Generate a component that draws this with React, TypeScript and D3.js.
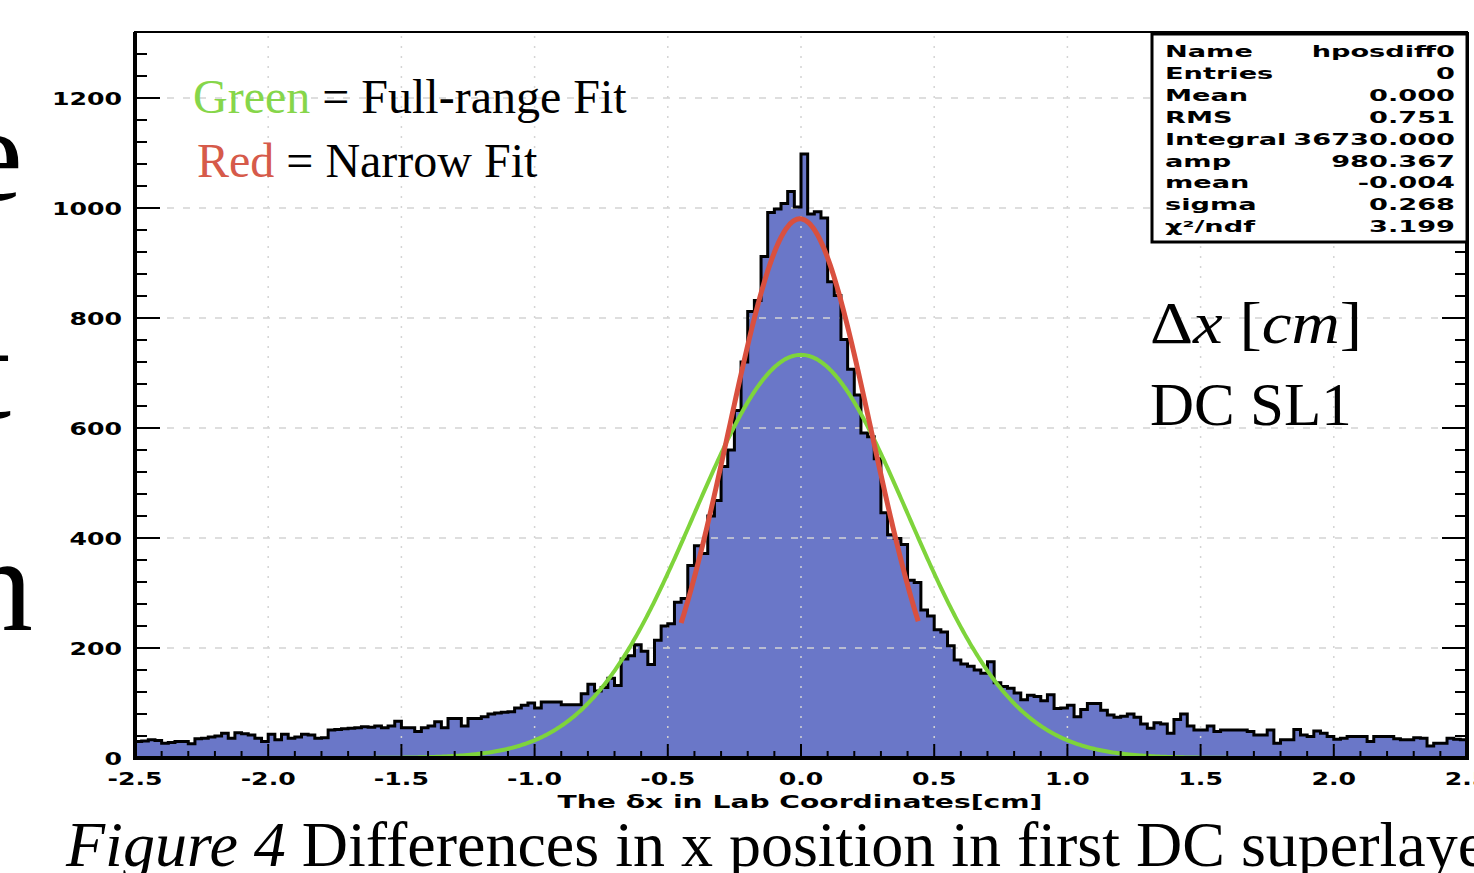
import React, { useEffect } from "react";
import * as d3 from "d3";

// histogram counts, 200 bins of 0.025 cm from -2.5 to 2.5
const counts = [
  30, 31, 33, 32, 27, 28, 30, 30, 26, 35, 36, 38, 40, 45, 36, 46, 44, 42, 36, 30,
  43, 33, 43, 36, 38, 43, 42, 36, 37, 51, 52, 53, 54, 55, 57, 56, 58, 55, 58, 67,
  55, 55, 48, 55, 58, 66, 55, 72, 72, 58, 72, 72, 75, 80, 82, 83, 84, 91, 96, 100,
  91, 102, 102, 102, 97, 97, 97, 117, 134, 122, 128, 145, 132, 180, 186, 206, 194, 170, 214, 240,
  244, 283, 290, 350, 386, 372, 440, 468, 530, 560, 632, 720, 812, 832, 912, 992, 998, 1008, 1030, 1002,
  1098, 989, 993, 982, 866, 841, 761, 707, 660, 591, 584, 544, 446, 406, 399, 388, 323, 319, 269, 258,
  233, 229, 204, 178, 171, 167, 160, 154, 175, 137, 130, 127, 118, 106, 114, 112, 104, 115, 90, 91,
  96, 75, 88, 99, 99, 87, 78, 74, 76, 80, 74, 62, 54, 64, 62, 45, 70, 80, 58, 51,
  51, 58, 48, 51, 51, 51, 51, 48, 42, 42, 51, 27, 33, 33, 52, 42, 39, 49, 45, 39,
  34, 36, 39, 39, 39, 30, 39, 39, 39, 35, 33, 33, 37, 36, 22, 27, 27, 36, 34, 33,
];
const binLo = -2.5;
const binWidth = 0.025;

const yTicks = [0, 200, 400, 600, 800, 1000, 1200];
const xTicks = [-2.5, -2.0, -1.5, -1.0, -0.5, 0.0, 0.5, 1.0, 1.5, 2.0, 2.5];

const statNames = ["Name", "Entries", "Mean", "RMS", "Integral", "amp", "mean", "sigma", "χ²/ndf"];
const statValues = ["hposdiff0", "0", "0.000", "0.751", "36730.000", "980.367", "-0.004", "0.268", "3.199"];

// narrow fit (from the stats box) and full-range fit
const narrowFit = { amp: 980.367, mean: -0.004, sigma: 0.268, from: -0.45, to: 0.44 };
const fullFit = { amp: 733, mean: 0.0, sigma: 0.4, from: -2.5, to: 2.5 };

const W = 1474;
const H = 873;

const gauss = (f, x) => f.amp * Math.exp(-0.5 * ((x - f.mean) / f.sigma) ** 2);
const fmtX = (v) => d3.format(".1f")(v).replace("−", "-");

export default function App() {
  useEffect(() => {
    document.body.style.margin = "0";
  }, []);

  const x = d3.scaleLinear().domain([-2.5, 2.5]).range([135, 1467]);
  const y = d3.scaleLinear().domain([0, 1320]).range([758, 32]);

  const steps = [];
  counts.forEach((c, i) => {
    const lo = binLo + i * binWidth;
    steps.push([lo, c], [lo + binWidth, c]);
  });
  const area = d3.area().x((d) => x(d[0])).y0(y(0)).y1((d) => y(d[1]));
  const line = d3.line().x((d) => x(d[0])).y((d) => y(d[1]));

  const fitPath = (f) => {
    const pts = d3.range(f.from, f.to + 1e-9, 0.005).map((v) => [v, gauss(f, v)]);
    return line(pts);
  };

  const minorY = d3.range(0, 1320, 40);
  const minorX = d3.range(-2.5, 2.5001, 0.1);

  const sans = "DejaVu Sans";
  const serif = "Liberation Serif";

  return (
    <svg width={W} height={H} style={{ display: "block", background: "#fff" }}>
      {/* cut-off slide text at the left */}
      <g fontFamily={serif} fontSize={135} textAnchor="end" fill="#000">
        <text x={23} y={200}>e</text>
        <text x={11} y={418}>t</text>
        <text x={33} y={630}>n</text>
      </g>

      {/* histogram */}
      <path d={area(steps)} fill="#6a77c8" />

      {/* grid */}
      <g stroke="#d4d4d4" strokeWidth={1.5}>
        {yTicks.slice(1).map((t) => (
          <line key={"gy" + t} x1={x(-2.5)} x2={x(2.5)} y1={y(t)} y2={y(t)} strokeDasharray="7,9" />
        ))}
        {xTicks.slice(1, -1).map((t) => (
          <line key={"gx" + t} x1={x(t)} x2={x(t)} y1={y(0)} y2={y(1320)} strokeDasharray="2,8" />
        ))}
      </g>

      <path d={line(steps)} fill="none" stroke="#000" strokeWidth={3} />

      {/* fits */}
      <path d={fitPath(fullFit)} fill="none" stroke="#7ed43b" strokeWidth={4} />
      <path d={fitPath(narrowFit)} fill="none" stroke="#d9503f" strokeWidth={5} />

      {/* axis ticks */}
      <g stroke="#000" strokeWidth={2}>
        {minorY.map((t) => {
          const len = t % 200 === 0 ? 25 : 12;
          return (
            <g key={"ty" + t}>
              <line x1={x(-2.5)} x2={x(-2.5) + len} y1={y(t)} y2={y(t)} />
              <line x1={x(2.5)} x2={x(2.5) - len} y1={y(t)} y2={y(t)} />
            </g>
          );
        })}
        {minorX.map((t, i) => {
          const len = i % 5 === 0 ? 14 : 7;
          return <line key={"tx" + i} x1={x(t)} x2={x(t)} y1={y(0)} y2={y(0) - len} />;
        })}
      </g>

      {/* frame */}
      <rect x={x(-2.5)} y={y(1320)} width={x(2.5) - x(-2.5)} height={y(0) - y(1320)} fill="none" stroke="#000" strokeWidth={2} />
      <line x1={x(-2.5)} x2={x(-2.5)} y1={y(1320)} y2={y(0) + 2} stroke="#000" strokeWidth={4} />
      <line x1={x(-2.5) - 2} x2={x(2.5) + 2} y1={y(0)} y2={y(0)} stroke="#000" strokeWidth={4} />
      <line x1={x(2.5)} x2={x(2.5)} y1={y(1320)} y2={y(0)} stroke="#000" strokeWidth={4} />

      {/* tick labels */}
      <g fontFamily={sans} fontWeight="bold" fontSize={18} fill="#000">
        {yTicks.map((t) => (
          <text key={"ly" + t} transform={`translate(122,${y(t) + 6.5}) scale(1.4,1)`} textAnchor="end">
            {t}
          </text>
        ))}
        {xTicks.map((t) => (
          <text key={"lx" + t} transform={`translate(${x(t)},785) scale(1.4,1)`} textAnchor="middle">
            {fmtX(t)}
          </text>
        ))}
        <text x={800} y={808} textAnchor="middle" textLength={485} lengthAdjust="spacingAndGlyphs">
          The δx in Lab Coordinates[cm]
        </text>
      </g>

      {/* stats box */}
      <rect x={1152} y={34} width={x(2.5) - 1152} height={208} fill="#fff" stroke="#000" strokeWidth={3} />
      <g fontFamily={sans} fontWeight="bold" fontSize={16} fill="#000">
        {statNames.map((n, i) => (
          <g key={n}>
            <text transform={`translate(1165,${57 + i * 21.9}) scale(1.7,1)`}>{n}</text>
            <text transform={`translate(1455,${57 + i * 21.9}) scale(1.7,1)`} textAnchor="end">
              {statValues[i]}
            </text>
          </g>
        ))}
      </g>

      {/* legend */}
      <g fontFamily={serif} fontSize={48}>
        <text x={193} y={113}>
          <tspan fill="#86d64a">Green</tspan>
          <tspan fill="#000"> = Full-range Fit</tspan>
        </text>
        <text x={197} y={177}>
          <tspan fill="#d65a4a">Red</tspan>
          <tspan fill="#000"> = Narrow Fit</tspan>
        </text>
      </g>

      {/* annotation */}
      <g fontFamily={serif} fill="#000">
        <text x={1150} y={343} fontSize={60} textLength={212} lengthAdjust="spacingAndGlyphs">
          Δ<tspan fontStyle="italic">x</tspan> [<tspan fontStyle="italic">cm</tspan>]
        </text>
        <text x={1150} y={425} fontSize={61}>DC SL1</text>
      </g>

      {/* caption */}
      <text x={66} y={866} fontFamily={serif} fontSize={64} fill="#000">
        <tspan fontStyle="italic">Figure 4</tspan> Differences in x position in first DC superlayer
      </text>
    </svg>
  );
}
